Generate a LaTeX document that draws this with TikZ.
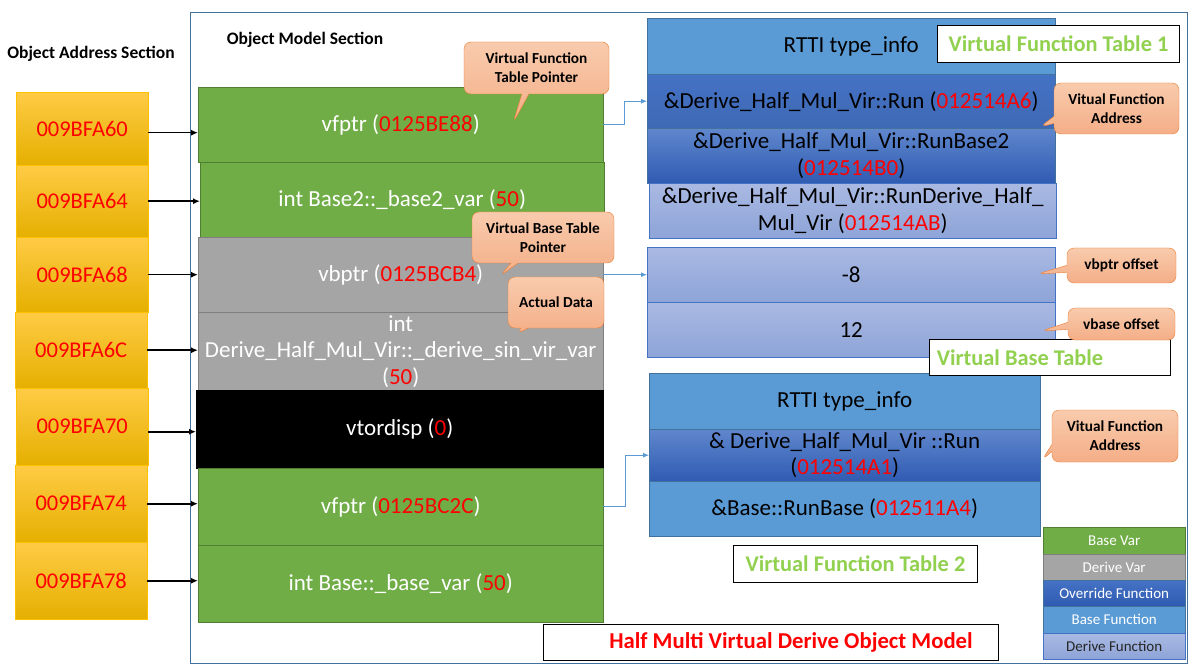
\documentclass[tikz,border=0pt]{standalone}
\usepackage{fontspec}
\setmainfont{Carlito}
\usetikzlibrary{arrows.meta,shapes.callouts}
\definecolor{grn}{HTML}{70AD47}
\definecolor{grnd}{HTML}{507E32}
\definecolor{gry}{HTML}{A5A5A5}
\definecolor{gryd}{HTML}{7F7F7F}
\definecolor{bl}{HTML}{5B9BD5}
\definecolor{bld}{HTML}{41719C}
\definecolor{ovr}{HTML}{4472C4}
\definecolor{ovrd}{HTML}{2F5BB2}
\definecolor{lil}{HTML}{A9B9E2}
\definecolor{lild}{HTML}{8EA4D8}
\definecolor{addt}{HTML}{FFCB45}
\definecolor{addm}{HTML}{FFC000}
\definecolor{addb}{HTML}{E5B000}
\definecolor{cot}{HTML}{F8CBAD}
\definecolor{cob}{HTML}{F4AE87}
\definecolor{cod}{HTML}{ED7D31}
\definecolor{lgr}{HTML}{92D050}
\definecolor{frm}{HTML}{41719C}
\newcommand\redv[1]{\textcolor{red}{#1}}
\begin{document}
\begin{tikzpicture}[x=1pt,y=-1pt,
  basebox/.style={anchor=north west,inner sep=0pt,align=center,font=\fontsize{23}{26.5}\selectfont},
  addrbox/.style={basebox,draw=addm,top color=addt,middle color=addm,bottom color=addb,text=red,font=\fontsize{22.5}{26}\selectfont},
  greenrow/.style={basebox,draw=grnd,fill=grn,text=white},
  grayrow/.style={basebox,draw=gryd,fill=gry,text=white},
  blackrow/.style={basebox,draw=black,fill=black,text=white},
  rttirow/.style={basebox,draw=bld,fill=bl,text=black},
  ovrrow/.style={basebox,draw=bld,top color=ovr!85!white,bottom color=ovrd,text=black},
  lilrow/.style={basebox,draw=ovr,top color=lil,bottom color=lild,text=black},
  labbox/.style={basebox,draw=black,line width=1pt,fill=white,text=lgr,font=\fontsize{22.4}{26}\selectfont\bfseries},
  legbox/.style={basebox,minimum width=142pt,text=white,font=\fontsize{15}{18}\selectfont},
  coutbox/.style={rectangle callout,rounded corners=7pt,draw=cod,top color=cot,bottom color=cob,inner sep=0pt,align=center,font=\fontsize{15.3}{19}\selectfont\bfseries,text=black},
  blkarrow/.style={draw=black,line width=1.6pt,-{Latex[length=7pt,width=6pt]}},
  bconn/.style={draw=bl,line width=0.9pt,-{Latex[length=6pt,width=5pt]}}
]
\useasboundingbox (0,0) rectangle (1194,668);
\fill[white] (0,0) rectangle (1194,668);
\draw[frm,line width=0.9pt] (190,12.5) rectangle (1187,663);

\node[font=\fontsize{17.5}{21}\selectfont\bfseries] (ttlA) at (91,54) {Object Address Section};
\node[font=\fontsize{17.5}{21}\selectfont\bfseries] (ttlM) at (305,40) {Object Model Section};

% address column
\node[addrbox,minimum width=132pt,minimum height=73pt] (a1) at (16,92) {009BFA60};
\node[addrbox,minimum width=132pt,minimum height=72pt] (a2) at (16,165) {009BFA64};
\node[addrbox,minimum width=132pt,minimum height=75pt] (a3) at (16,237) {009BFA68};
\node[addrbox,minimum width=132pt,minimum height=76pt] (a4) at (15,312) {009BFA6C};
\node[addrbox,minimum width=132pt,minimum height=77pt] (a5) at (16,388) {009BFA70};
\node[addrbox,minimum width=132pt,minimum height=77pt] (a6) at (15,465) {009BFA74};
\node[addrbox,minimum width=132pt,minimum height=77pt] (a7) at (15,542) {009BFA78};

% object model column
\node[greenrow,minimum width=405pt,minimum height=75pt] (m1) at (198,87) {vfptr (\redv{0125BE88})};
\node[greenrow,minimum width=404pt,minimum height=75pt] (m2) at (200,162) {int Base2::\_base2\_var (\redv{50})};
\node[grayrow,minimum width=405pt,minimum height=75pt] (m3) at (198,237) {vbptr (\redv{0125BCB4})};
\node[grayrow,minimum width=405pt,minimum height=78pt] (m4) at (198,312) {int\\Derive\_Half\_Mul\_Vir::\_derive\_sin\_vir\_var\\(\redv{50})};
\node[blackrow,minimum width=407pt,minimum height=78pt] (m5) at (196,390) {vtordisp (\redv{0})};
\node[greenrow,minimum width=405pt,minimum height=77pt] (m6) at (198,468) {vfptr (\redv{0125BC2C})};
\node[greenrow,minimum width=405pt,minimum height=77pt] (m7) at (198,545) {int Base::\_base\_var (\redv{50})};

% arrows address -> model
\draw[blkarrow] ([yshift=-4pt]a1.east) -- ([yshift=-4pt]a1.east -| m1.west);
\draw[blkarrow] (a2.east) -- (a2.east -| m2.west);
\draw[blkarrow] (a3.east) -- (a3.east -| m3.west);
\draw[blkarrow] (a4.east) -- (a4.east -| m4.west);
\draw[blkarrow] ([yshift=-5pt]a5.east) -- ([yshift=-5pt]a5.east -| m5.west);
\draw[blkarrow] (a6.east) -- (a6.east -| m6.west);
\draw[blkarrow] (a7.east) -- (a7.east -| m7.west);

% virtual function table 1
\node[rttirow,minimum width=408pt,minimum height=56pt] (t1a) at (647,18) {RTTI type\_info};
\node[ovrrow,top color=ovr,bottom color=ovr!92!black,minimum width=408pt,minimum height=54pt] (t1b) at (647,74) {\&Derive\_Half\_Mul\_Vir::Run (\redv{012514A6})};
\node[ovrrow,minimum width=408pt,minimum height=55pt] (t1c) at (647,128) {\&Derive\_Half\_Mul\_Vir::RunBase2\\(\redv{012514B0})};
\node[lilrow,minimum width=407pt,minimum height=55pt] (t1d) at (649,183) {\&Derive\_Half\_Mul\_Vir::RunDerive\_Half\_\\Mul\_Vir (\redv{012514AB})};

% virtual base table
\node[lilrow,minimum width=408pt,minimum height=55pt] (vb1) at (647,247) {-8};
\node[lilrow,minimum width=408pt,minimum height=55pt] (vb2) at (647,302) {12};

% virtual function table 2
\node[rttirow,minimum width=391pt,minimum height=56pt] (t2a) at (649,373) {RTTI type\_info};
\node[ovrrow,minimum width=391pt,minimum height=52pt] (t2b) at (649,429) {\& Derive\_Half\_Mul\_Vir ::Run\\(\redv{012514A1})};
\node[rttirow,minimum width=391pt,minimum height=55pt] (t2c) at (649,481) {\&Base::RunBase (\redv{012511A4})};

% connectors model -> tables
\draw[bconn] (m1.east) -- ++(21,0) |- (t1b.west);
\draw[bconn] (m3.east) -- (vb1.west);
\draw[bconn] (m6.east) -- ++(22,0) |- (t2b.west);

% labels
\node[labbox,minimum width=242pt,minimum height=37pt] (l1) at (937,25) {Virtual Function Table 1};
\node[labbox,minimum width=241pt,minimum height=36pt] (l2) at (929,339) {Virtual Base Table\hspace*{60pt}};
\node[labbox,minimum width=244pt,minimum height=37pt] (l3) at (733,545) {Virtual Function Table 2};
\node[labbox,text=red,minimum width=455pt,minimum height=36pt,font=\fontsize{22.7}{26}\selectfont\bfseries] (l4) at (543,624) {\hspace*{40pt}Half Multi Virtual Derive Object Model};

% legend
\node[legbox,draw=grnd,fill=grn,minimum height=27pt] (g1) at (1043,527) {Base Var};
\node[legbox,draw=gryd,fill=gry,minimum height=26pt] (g2) at (1043,554) {Derive Var};
\node[legbox,draw=bld,top color=ovr,bottom color=ovrd,minimum height=26pt] (g3) at (1043,580) {Override Function};
\node[legbox,draw=bld,fill=bl,minimum height=27pt] (g4) at (1043,606) {Base Function};
\node[legbox,draw=ovr,top color=lil,bottom color=lild,text=black!85,minimum height=26pt] (g5) at (1043,633) {Derive Function};

% callouts
\node[coutbox,minimum width=145pt,minimum height=52pt,callout absolute pointer={(513,123)}] (c1) at (536.5,68) {Virtual Function\\Table Pointer};
\node[coutbox,minimum width=142pt,minimum height=51pt,callout absolute pointer={(500,276)}] (c2) at (543,237.5) {Virtual Base Table\\Pointer};
\node[coutbox,minimum width=96pt,minimum height=51pt,callout absolute pointer={(517,334)}] (c3) at (556,302.5) {Actual Data};
\node[coutbox,minimum width=125pt,minimum height=51pt,callout absolute pointer={(1040,127)}] (c4) at (1116.5,108.5) {Vitual Function\\Address};
\node[coutbox,minimum width=109pt,minimum height=35pt,callout absolute pointer={(1037,274)}] (c5) at (1121.5,265.5) {vbptr offset};
\node[coutbox,minimum width=107pt,minimum height=32pt,callout absolute pointer={(1041,331)}] (c6) at (1121.5,324) {vbase offset};
\node[coutbox,minimum width=126pt,minimum height=52pt,callout absolute pointer={(1042,460)}] (c7) at (1115,436) {Vitual Function\\Address};
\end{tikzpicture}
\end{document}
